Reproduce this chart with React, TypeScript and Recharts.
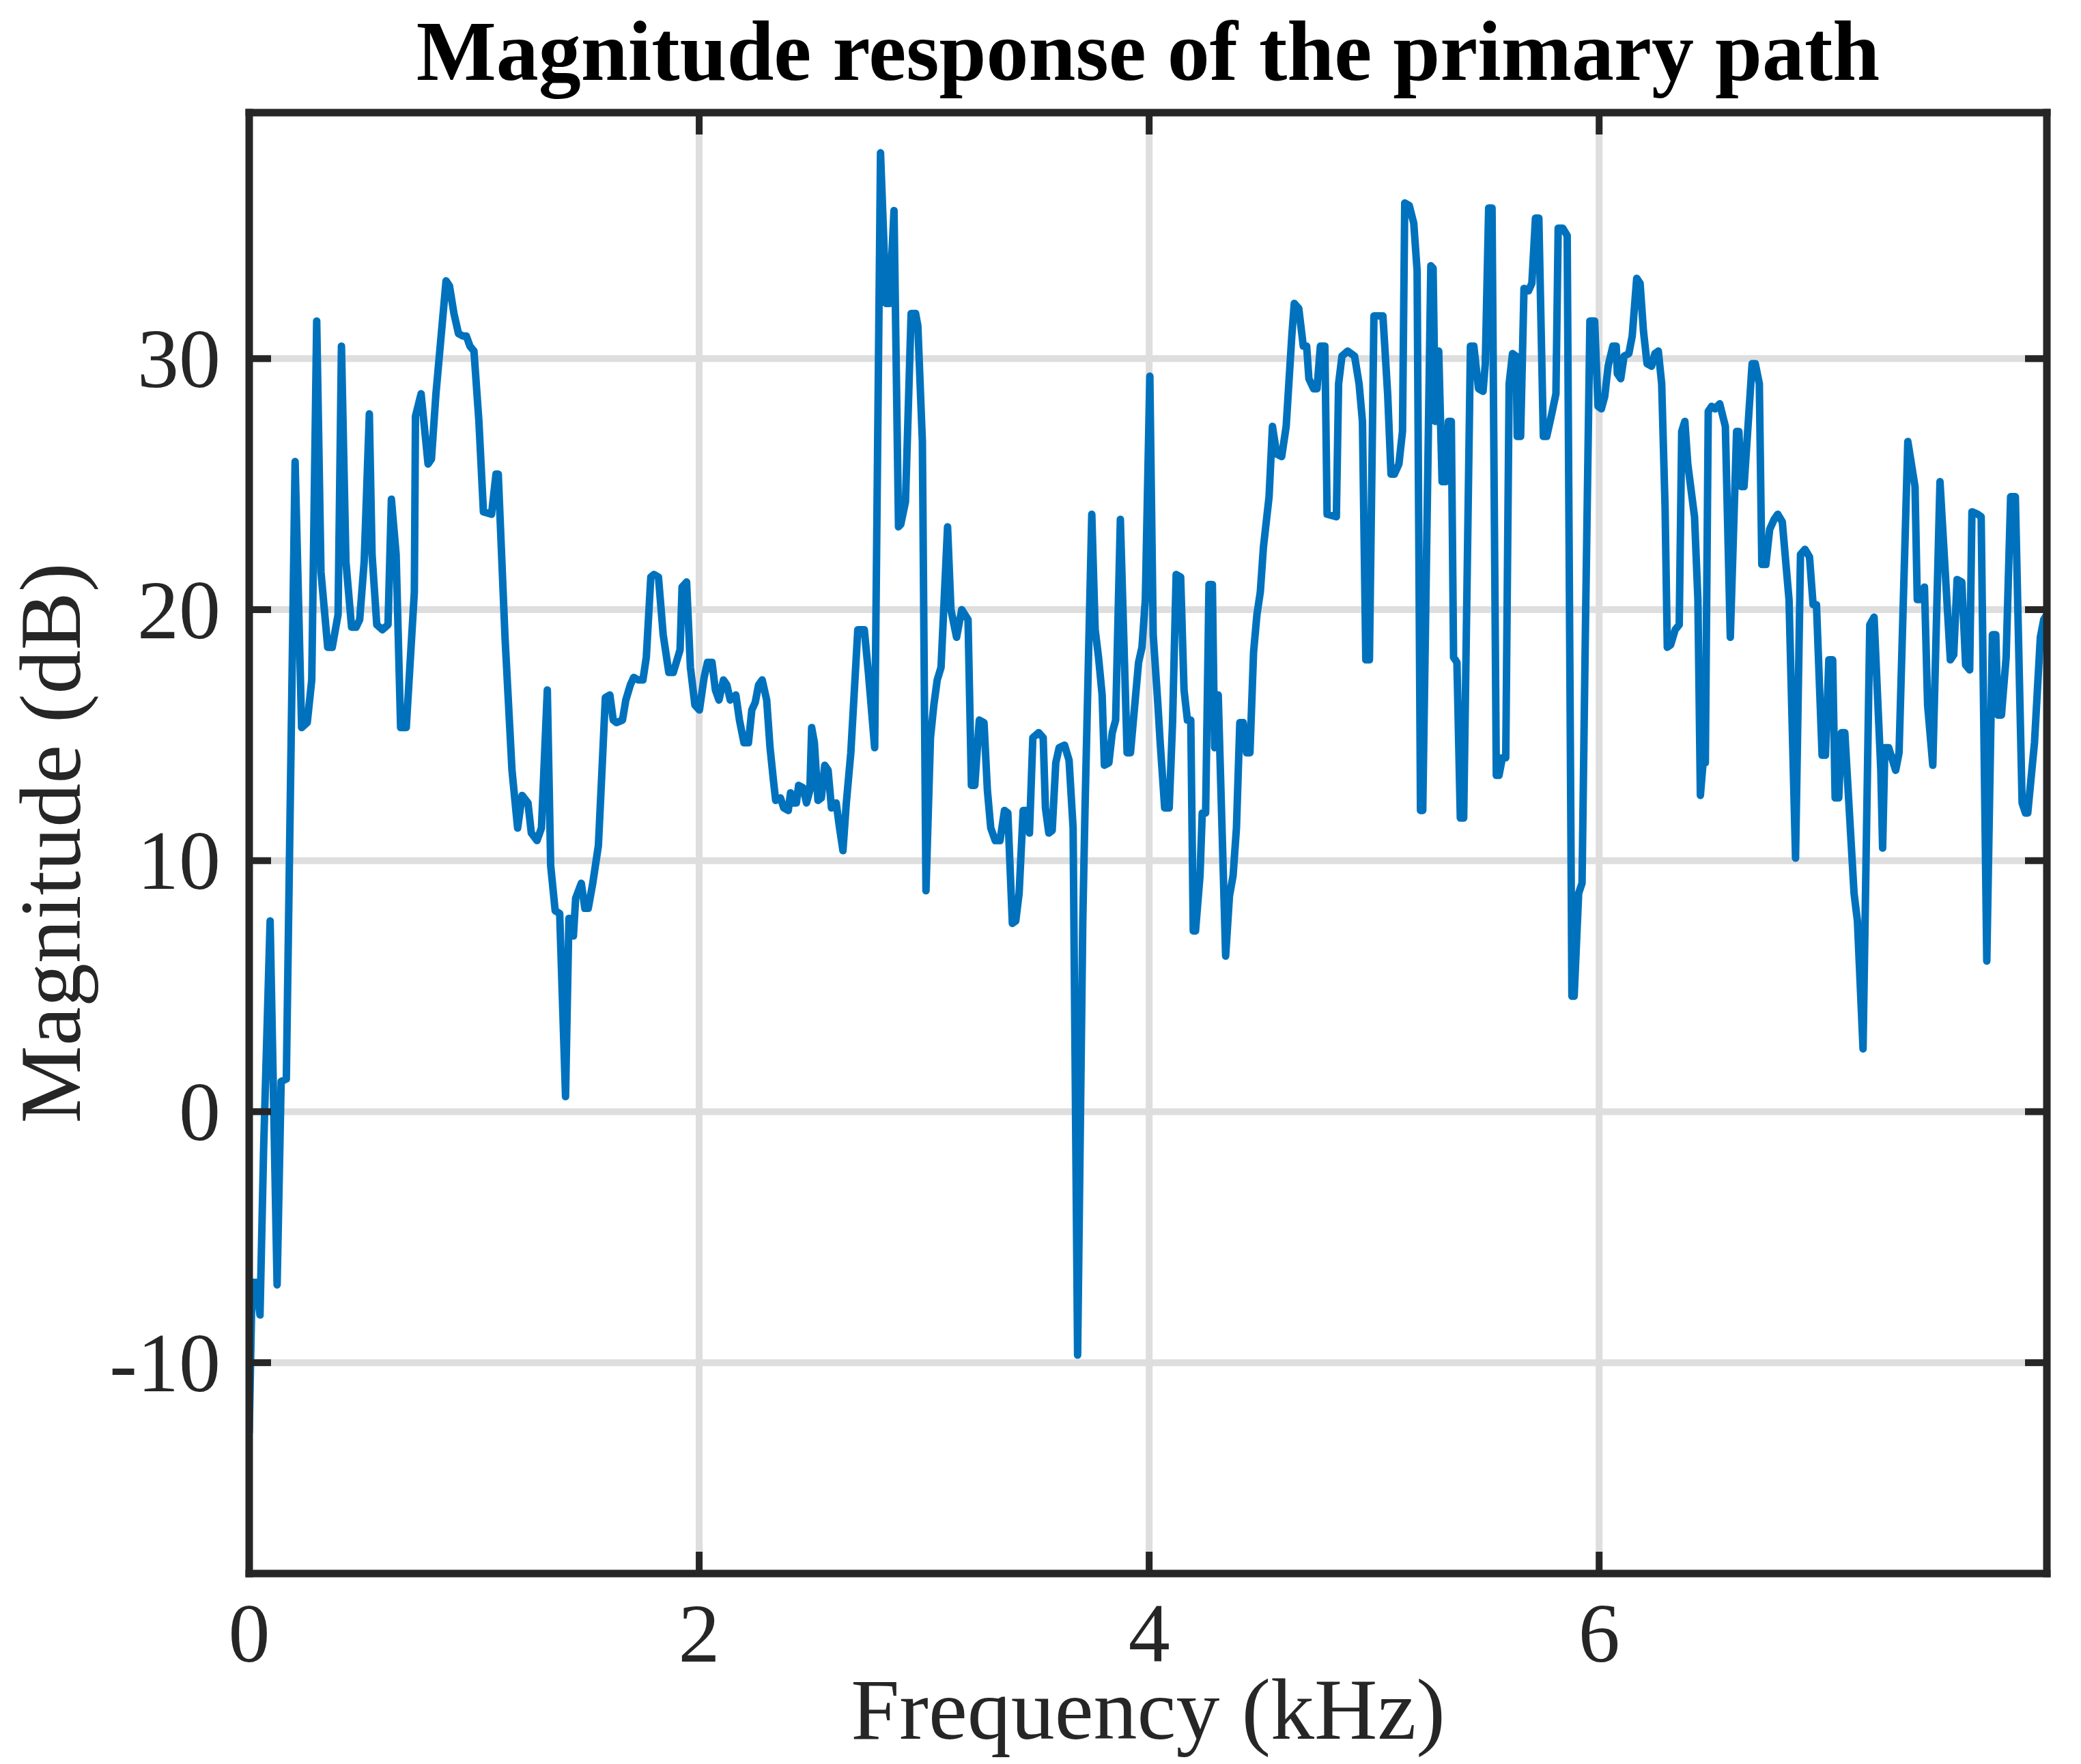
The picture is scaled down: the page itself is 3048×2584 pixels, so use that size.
import React from "react";
import { LineChart, Line, XAxis, YAxis, CartesianGrid } from "recharts";

// ---- data ----
const FREQ_KHZ: number[] = [
  0, 0.013, 0.03, 0.048, 0.064, 0.093, 0.124, 0.142, 0.165, 0.204,
  0.233, 0.258, 0.278, 0.3, 0.319, 0.349, 0.369, 0.395, 0.41, 0.43,
  0.455, 0.475, 0.491, 0.511, 0.534, 0.546, 0.567, 0.592, 0.617, 0.632,
  0.653, 0.673, 0.698, 0.734, 0.739, 0.764, 0.795, 0.81, 0.83, 0.875,
  0.89, 0.91, 0.93, 0.95, 0.965, 0.981, 0.999, 1.021, 1.041, 1.077,
  1.097, 1.107, 1.137, 1.168, 1.193, 1.213, 1.239, 1.254, 1.279, 1.299,
  1.325, 1.34, 1.36, 1.38, 1.406, 1.421, 1.441, 1.451, 1.476, 1.492,
  1.507, 1.527, 1.552, 1.568, 1.583, 1.603, 1.618, 1.633, 1.659, 1.674,
  1.694, 1.709, 1.729, 1.75, 1.765, 1.785, 1.799, 1.819, 1.84, 1.865,
  1.885, 1.915, 1.924, 1.944, 1.961, 1.981, 2.001, 2.022, 2.037, 2.057,
  2.072, 2.088, 2.108, 2.123, 2.138, 2.163, 2.179, 2.199, 2.219, 2.234,
  2.249, 2.264, 2.28, 2.3, 2.315, 2.33, 2.34, 2.361, 2.376, 2.396,
  2.406, 2.416, 2.432, 2.442, 2.462, 2.477, 2.492, 2.5, 2.512, 2.528,
  2.543, 2.558, 2.573, 2.588, 2.609, 2.624, 2.639, 2.654, 2.674, 2.705,
  2.734, 2.752, 2.78, 2.806, 2.831, 2.846, 2.866, 2.886, 2.896, 2.917,
  2.942, 2.962, 2.972, 2.992, 3.008, 3.028, 3.043, 3.058, 3.075, 3.104,
  3.119, 3.144, 3.167, 3.195, 3.21, 3.225, 3.245, 3.266, 3.281, 3.296,
  3.316, 3.337, 3.357, 3.372, 3.392, 3.407, 3.422, 3.44, 3.455, 3.468,
  3.483, 3.509, 3.529, 3.539, 3.554, 3.569, 3.585, 3.6, 3.624, 3.644,
  3.662, 3.682, 3.705, 3.715, 3.745, 3.76, 3.775, 3.791, 3.801, 3.821,
  3.836, 3.851, 3.872, 3.902, 3.917, 3.932, 3.953, 3.968, 3.983, 4.003,
  4.018, 4.039, 4.049, 4.069, 4.089, 4.104, 4.12, 4.14, 4.155, 4.17,
  4.185, 4.196, 4.206, 4.226, 4.236, 4.251, 4.266, 4.281, 4.291, 4.307,
  4.34, 4.357, 4.373, 4.388, 4.403, 4.418, 4.433, 4.448, 4.464, 4.479,
  4.494, 4.508, 4.533, 4.548, 4.567, 4.589, 4.609, 4.634, 4.645, 4.665,
  4.685, 4.7, 4.71, 4.731, 4.746, 4.761, 4.781, 4.791, 4.832, 4.842,
  4.857, 4.882, 4.913, 4.933, 4.948, 4.963, 4.979, 4.999, 5.039, 5.06,
  5.075, 5.09, 5.11, 5.126, 5.136, 5.156, 5.176, 5.191, 5.206, 5.216,
  5.252, 5.262, 5.272, 5.287, 5.302, 5.318, 5.33, 5.343, 5.353, 5.368,
  5.383, 5.398, 5.428, 5.443, 5.464, 5.484, 5.494, 5.509, 5.524, 5.543,
  5.555, 5.57, 5.585, 5.6, 5.615, 5.631, 5.636, 5.651, 5.666, 5.686,
  5.701, 5.717, 5.732, 5.752, 5.767, 5.787, 5.808, 5.818, 5.838, 5.858,
  5.879, 5.889, 5.909, 5.924, 5.939, 5.959, 5.98, 5.995, 6.01, 6.025,
  6.04, 6.061, 6.076, 6.081, 6.096, 6.111, 6.132, 6.147, 6.167, 6.182,
  6.197, 6.213, 6.233, 6.248, 6.263, 6.278, 6.293, 6.303, 6.318, 6.338,
  6.356, 6.367, 6.381, 6.394, 6.424, 6.439, 6.45, 6.462, 6.472, 6.485,
  6.5, 6.515, 6.536, 6.561, 6.583, 6.611, 6.621, 6.632, 6.644, 6.68,
  6.694, 6.712, 6.723, 6.741, 6.758, 6.778, 6.794, 6.814, 6.844, 6.873,
  6.895, 6.915, 6.935, 6.951, 6.966, 6.991, 7.006, 7.021, 7.038, 7.049,
  7.065, 7.077, 7.092, 7.133, 7.148, 7.173, 7.203, 7.222, 7.252, 7.26,
  7.27, 7.287, 7.318, 7.333, 7.372, 7.404, 7.414, 7.429, 7.446, 7.46,
  7.483, 7.515, 7.561, 7.576, 7.591, 7.612, 7.629, 7.647, 7.657, 7.683,
  7.698, 7.723, 7.748, 7.763, 7.773, 7.788, 7.809, 7.829, 7.85, 7.88,
  7.895, 7.905, 7.935, 7.961, 7.976, 7.99,
];

const MAGNITUDE_DB: number[] = [
  -12.8, -6.8, -6.8, -8.1, -1.5, 7.6, -6.9, 1.2, 1.3, 25.9,
  15.3, 15.5, 17.2, 31.5, 21.5, 18.5, 18.5, 19.8, 30.5, 21.9,
  19.3, 19.3, 19.6, 21.9, 27.8, 22.2, 19.4, 19.2, 19.4, 24.4,
  22.2, 15.3, 15.3, 20.7, 27.7, 28.6, 25.8, 26.0, 28.6, 33.1,
  32.9, 31.8, 31.0, 30.9, 30.9, 30.5, 30.3, 27.5, 23.9, 23.8,
  25.4, 25.4, 18.9, 13.6, 11.3, 12.6, 12.3, 11.1, 10.8, 11.3,
  16.8, 9.8, 8.0, 7.9, 0.6, 7.7, 7.0, 8.5, 9.1, 8.1,
  8.1, 9.1, 10.6, 13.6, 16.5, 16.6, 15.6, 15.5, 15.6, 16.4,
  17.0, 17.3, 17.2, 17.2, 18.1, 21.3, 21.4, 21.3, 19.0, 17.5,
  17.5, 18.4, 20.9, 21.1, 17.7, 16.2, 16.0, 17.3, 17.9, 17.9,
  16.8, 16.4, 17.2, 17.0, 16.4, 16.6, 15.6, 14.7, 14.7, 16.0,
  16.3, 17.0, 17.2, 16.4, 14.5, 13.2, 12.4, 12.5, 12.1, 12.0,
  12.7, 12.3, 12.3, 13.0, 12.9, 12.3, 12.8, 15.3, 14.7, 12.4,
  12.5, 13.8, 13.6, 12.1, 12.3, 11.3, 10.4, 12.3, 14.3, 19.2,
  19.2, 17.5, 14.5, 38.2, 32.2, 32.2, 35.9, 23.3, 23.4, 24.3,
  31.8, 31.8, 31.3, 26.7, 8.8, 14.9, 16.2, 17.2, 17.7, 23.3,
  20.0, 18.9, 20.0, 19.6, 13.0, 13.0, 15.6, 15.5, 12.8, 11.3,
  10.8, 10.8, 12.0, 11.9, 7.5, 7.6, 8.7, 12.0, 12.0, 11.1,
  14.9, 15.1, 14.9, 12.1, 11.1, 11.2, 13.9, 14.5, 14.6, 14.0,
  11.3, -9.7, 7.6, 12.1, 23.8, 19.2, 18.1, 16.6, 13.8, 13.9,
  15.1, 15.6, 23.6, 14.3, 14.3, 15.8, 17.9, 18.5, 20.4, 29.3,
  19.0, 16.2, 14.7, 12.1, 12.1, 15.5, 21.4, 21.3, 16.8, 15.6,
  15.6, 7.2, 7.2, 9.4, 11.9, 11.9, 21.0, 21.0, 14.5, 16.6,
  6.2, 8.6, 9.4, 11.3, 15.5, 15.5, 14.3, 14.3, 18.3, 19.8,
  20.7, 22.5, 24.5, 27.3, 26.2, 26.1, 27.3, 30.9, 32.2, 32.0,
  30.5, 30.5, 29.2, 28.8, 28.8, 30.5, 30.5, 23.8, 23.7, 29.0,
  30.1, 30.3, 30.1, 29.0, 27.5, 18.0, 18.0, 31.7, 31.7, 28.6,
  25.4, 25.4, 25.8, 27.1, 36.2, 36.1, 35.4, 33.5, 12.0, 12.0,
  33.7, 33.6, 27.5, 30.3, 25.1, 25.1, 27.5, 27.5, 18.1, 17.9,
  11.7, 11.7, 30.5, 30.5, 28.8, 28.7, 29.8, 36.0, 36.0, 13.4,
  13.4, 14.1, 14.1, 29.0, 30.2, 30.1, 26.9, 26.9, 32.8, 32.7,
  33.0, 35.6, 35.6, 26.9, 26.9, 27.7, 28.6, 35.2, 35.2, 34.9,
  4.6, 4.6, 8.7, 9.1, 19.2, 31.5, 31.5, 28.1, 28.0, 28.5,
  29.7, 30.5, 30.5, 29.4, 29.2, 30.1, 30.2, 30.9, 33.2, 33.0,
  31.1, 29.8, 29.7, 30.2, 30.3, 29.0, 24.1, 18.5, 18.6, 19.2,
  19.4, 27.1, 27.5, 25.8, 23.7, 20.4, 12.6, 13.9, 13.9, 27.9,
  28.1, 28.0, 28.2, 27.3, 18.9, 27.1, 27.1, 24.9, 24.9, 29.8,
  29.8, 29.0, 21.8, 21.8, 23.2, 23.6, 23.8, 23.5, 20.4, 10.1,
  22.2, 22.4, 22.1, 20.2, 20.2, 14.2, 14.2, 18.0, 18.0, 12.5,
  12.5, 15.1, 15.1, 8.7, 7.6, 2.5, 19.4, 19.7, 13.6, 10.5,
  14.5, 14.5, 13.6, 14.3, 26.7, 24.9, 20.4, 20.4, 20.9, 16.2,
  13.8, 25.1, 18.0, 18.2, 21.2, 21.1, 17.8, 17.6, 23.9, 23.8,
  23.7, 6.0, 19.0, 19.0, 15.8, 15.8, 18.1, 24.5, 24.5, 12.3,
  11.9, 11.9, 14.7, 18.9, 19.6, 19.8,
];

const X_TICKS: number[] = [0, 2, 4, 6];
const Y_TICKS: number[] = [-10, 0, 10, 20, 30];
const X_DOMAIN: [number, number] = [0, 7.99];
const Y_DOMAIN: [number, number] = [-18.4, 39.8];

const TITLE = "Magnitude response of the primary path";
const X_LABEL = "Frequency (kHz)";
const Y_LABEL = "Magnitude (dB)";

// ---- layout / style ----
const W = 3048;
const H = 2584;
const PLOT_LEFT = 365;
const PLOT_RIGHT = 2998;
const PLOT_TOP = 165;
const PLOT_BOTTOM = 2305;
const AX = 2; // thickness reserved by each (label-less) axis band
const TICK_LEN = 32;
const AXIS_COLOR = "#262626";
const FONT = "'Liberation Serif', 'Times New Roman', Times, serif";
const TICK_FONT = 122;
const LABEL_FONT = 128;
const TITLE_FONT = 124;
const Y_LABEL_X = 117;

const data = FREQ_KHZ.map((f, i) => ({ f, mag: MAGNITUDE_DB[i] }));

const BottomTick = (props: any) => {
  const { x, payload } = props;
  return (
    <g>
      <line x1={x} x2={x} y1={PLOT_BOTTOM} y2={PLOT_BOTTOM - TICK_LEN} stroke={AXIS_COLOR} strokeWidth={10} />
      <text x={x} y={2434} textAnchor="middle" fontFamily={FONT} fontSize={TICK_FONT} fill={AXIS_COLOR}>
        {String(payload.value)}
      </text>
    </g>
  );
};

const TopTick = (props: any) => {
  const { x } = props;
  return <line x1={x} x2={x} y1={PLOT_TOP} y2={PLOT_TOP + TICK_LEN} stroke={AXIS_COLOR} strokeWidth={10} />;
};

const LeftTick = (props: any) => {
  const { y, payload } = props;
  return (
    <g>
      <line x1={PLOT_LEFT} x2={PLOT_LEFT + TICK_LEN} y1={y} y2={y} stroke={AXIS_COLOR} strokeWidth={10} />
      <text x={323} y={y} dy="0.34em" textAnchor="end" fontFamily={FONT} fontSize={TICK_FONT} fill={AXIS_COLOR}>
        {String(payload.value)}
      </text>
    </g>
  );
};

const RightTick = (props: any) => {
  const { y } = props;
  return <line x1={PLOT_RIGHT} x2={PLOT_RIGHT - TICK_LEN} y1={y} y2={y} stroke={AXIS_COLOR} strokeWidth={10} />;
};

const axisLine = { stroke: AXIS_COLOR, strokeWidth: 11, strokeLinecap: "square" as const };

export default function App() {
  return (
    <div style={{ position: "absolute", left: 0, top: 0, width: W, height: H, background: "#ffffff" }}>
      <LineChart
        width={W}
        height={H}
        data={data}
        margin={{
          top: PLOT_TOP - AX,
          right: W - PLOT_RIGHT - AX,
          bottom: H - PLOT_BOTTOM - AX,
          left: PLOT_LEFT - AX,
        }}
      >
        <CartesianGrid stroke="#dedede" strokeWidth={10} />
        <XAxis
          xAxisId={0}
          dataKey="f"
          type="number"
          domain={X_DOMAIN}
          ticks={X_TICKS}
          interval={0}
          allowDataOverflow
          height={AX}
          axisLine={axisLine}
          tickLine={false}
          tick={BottomTick}
        />
        <XAxis
          xAxisId="top"
          orientation="top"
          dataKey="f"
          type="number"
          domain={X_DOMAIN}
          ticks={X_TICKS}
          interval={0}
          allowDataOverflow
          height={AX}
          axisLine={axisLine}
          tickLine={false}
          tick={TopTick}
        />
        <YAxis
          yAxisId={0}
          type="number"
          domain={Y_DOMAIN}
          ticks={Y_TICKS}
          interval={0}
          allowDataOverflow
          width={AX}
          axisLine={axisLine}
          tickLine={false}
          tick={LeftTick}
        />
        <YAxis
          yAxisId="right"
          orientation="right"
          type="number"
          domain={Y_DOMAIN}
          ticks={Y_TICKS}
          interval={0}
          allowDataOverflow
          width={AX}
          axisLine={axisLine}
          tickLine={false}
          tick={RightTick}
        />
        <Line
          xAxisId={0}
          yAxisId={0}
          type="linear"
          dataKey="mag"
          stroke="#0072BD"
          strokeWidth={11}
          strokeLinejoin="round"
          dot={false}
          activeDot={false}
          isAnimationActive={false}
        />
      </LineChart>
      <svg
        width={W}
        height={H}
        style={{ position: "absolute", left: 0, top: 0, pointerEvents: "none" }}
      >
        <text x={(PLOT_LEFT + PLOT_RIGHT) / 2} y={117} textAnchor="middle" fontFamily={FONT} fontSize={TITLE_FONT} fontWeight="bold" fill="#000000">
          {TITLE}
        </text>
        <text x={(PLOT_LEFT + PLOT_RIGHT) / 2} y={2547} textAnchor="middle" fontFamily={FONT} fontSize={LABEL_FONT} fill={AXIS_COLOR}>
          {X_LABEL}
        </text>
        <text
          x={Y_LABEL_X}
          y={(PLOT_TOP + PLOT_BOTTOM) / 2}
          textAnchor="middle"
          fontFamily={FONT}
          fontSize={LABEL_FONT}
          fill={AXIS_COLOR}
          transform={`rotate(-90 ${Y_LABEL_X} ${(PLOT_TOP + PLOT_BOTTOM) / 2})`}
        >
          {Y_LABEL}
        </text>
      </svg>
    </div>
  );
}
